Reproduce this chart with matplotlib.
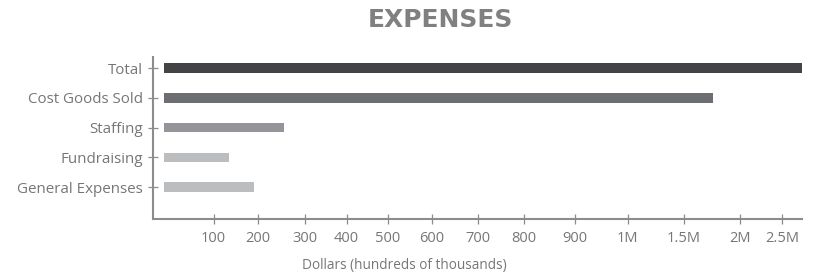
import numpy as np
import matplotlib
matplotlib.use("Agg")
import matplotlib.pyplot as plt
from matplotlib.ticker import FixedLocator, FixedFormatter

# ---- data (values in thousands of dollars) ----
categories = ["Total", "Cost Goods Sold", "Staffing", "Fundraising", "General Expenses"]
values = [2740, 1763, 256, 135, 192]
bar_colors = ["#444446", "#6d6e71", "#939598", "#bcbdbf", "#bcbdbf"]
tick_values = [100, 200, 300, 400, 500, 600, 700, 800, 900, 1000, 1500, 2000, 2500]
tick_labels = ["100", "200", "300", "400", "500", "600", "700", "800", "900",
               "1M", "1.5M", "2M", "2.5M"]
title = "EXPENSES"
xlabel = "Dollars (hundreds of thousands)"

# ---- custom piecewise axis scale (tick spacing of the original chart) ----
knot_vals = np.array([0] + tick_values, dtype=float)
knot_pos = np.array([0, 50, 94, 141, 183, 224, 268, 314, 360, 411, 464, 520, 576, 618], dtype=float)


def _interp_ext(x, xp, fp):
    x = np.asarray(x, dtype=float)
    y = np.interp(x, xp, fp)
    sl = (fp[1] - fp[0]) / (xp[1] - xp[0])
    sr = (fp[-1] - fp[-2]) / (xp[-1] - xp[-2])
    y = np.where(x < xp[0], fp[0] + (x - xp[0]) * sl, y)
    y = np.where(x > xp[-1], fp[-1] + (x - xp[-1]) * sr, y)
    return y


def fwd(v):
    return _interp_ext(v, knot_vals, knot_pos)


def inv(p):
    return _interp_ext(p, knot_pos, knot_vals)


plt.rcParams["font.family"] = ["Open Sans", "DejaVu Sans"]

W, H = 821, 277
fig = plt.figure(figsize=(W / 100, H / 100), dpi=100)
ax = fig.add_axes([153 / W, (H - 219) / H, 649 / W, 162 / H])

ax.set_xscale("function", functions=(fwd, inv))
y = np.arange(len(categories))
ax.barh(y, values, height=0.32, color=bar_colors, zorder=2)

ax.set_xlim(-21, max(values))
ax.set_ylim(5.07, -0.37)

ax.set_yticks(y)
ax.set_yticklabels(categories)
ax.xaxis.set_major_locator(FixedLocator(tick_values))
ax.xaxis.set_major_formatter(FixedFormatter(tick_labels))
ax.xaxis.set_minor_locator(FixedLocator([]))

spine_col = "#8c8c8c"
text_col = "#767676"
for s in ["top", "right"]:
    ax.spines[s].set_visible(False)
for s in ["left", "bottom"]:
    ax.spines[s].set_color(spine_col)
    ax.spines[s].set_linewidth(1.5)

ax.tick_params(axis="y", direction="inout", length=7, width=0.9, color=spine_col,
               labelcolor=text_col, labelsize=10.9, pad=4)
ax.tick_params(axis="x", direction="inout", length=7, width=0.9, color=spine_col,
               labelcolor=text_col, labelsize=10.5, pad=5)

fig.text(440.5 / W, 1 - 20 / H, title, ha="center", va="center",
         fontsize=18, fontweight="bold", color="#808080", family=["DejaVu Sans"])
fig.text(404.5 / W, 1 - 266 / H, xlabel, ha="center", va="center",
         fontsize=9.8, color=text_col)

fig.savefig("out.png", dpi=100)
